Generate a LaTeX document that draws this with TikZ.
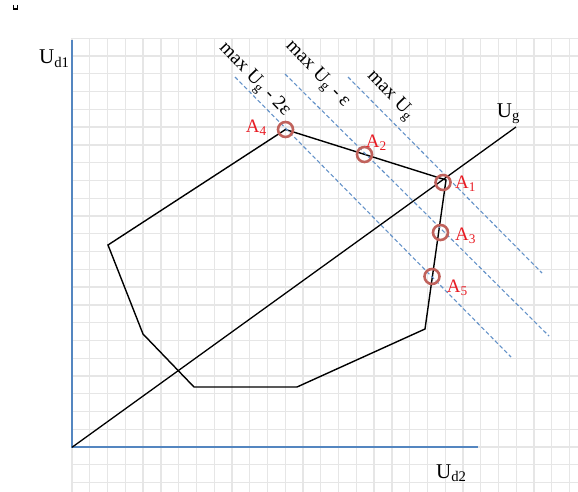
\documentclass[tikz,border=0pt]{standalone}
\usepackage{fontspec}
\setmainfont{Liberation Serif}
\definecolor{axisblue}{RGB}{84,134,192}
\definecolor{levelblue}{RGB}{100,146,200}
\definecolor{ringred}{RGB}{192,98,92}
\definecolor{tagred}{RGB}{232,28,36}
\definecolor{gridgray}{RGB}{230,230,230}

\begin{document}
\begin{tikzpicture}[x=1pt,y=-1pt,
  level/.style={levelblue,line width=1.1pt,dash pattern=on 4pt off 2.5pt},
  ring/.style={ringred,line width=2.6pt},
  tag/.style={tagred,font=\fontsize{19}{19}\selectfont,inner sep=0pt,anchor=base west},
  axlabel/.style={font=\fontsize{21}{21}\selectfont,inner sep=0pt,anchor=base west},
  levellabel/.style={font=\fontsize{19.5}{19.5}\selectfont,rotate=-46,inner sep=0pt}]
  \useasboundingbox (0,0) rectangle (578,492);
  \foreach \i in {0,...,28}
    \draw[gridgray,line width=1.3pt] (72+17.77*\i,38.3) -- (72+17.77*\i,492);
  \foreach \j in {0,...,25}
    \draw[gridgray,line width=1.3pt] (72,38.3+17.77*\j) -- (578,38.3+17.77*\j);
  \fill (13.3,8.2) rectangle (17.6,10);
  \draw[line width=0.7pt] (13.6,5) -- (13.6,9.5) (17.3,5) -- (17.3,9.5);

  \coordinate (O) at (72,447.3);
  \coordinate (Ytop) at (72,40);
  \coordinate (Xend) at (478,447.3);
  \coordinate (G) at (516,127);
  \draw[axisblue,line width=1.8pt] (Ytop) -- (O) -- (Xend);
  \draw[line width=1.3pt] (O) -- (G);

  \coordinate (A4) at (285.5,129.5);
  \coordinate (A2) at (364.5,154.5);
  \coordinate (A1) at (443,182.5);
  \coordinate (A3) at (440.5,232.5);
  \coordinate (A5) at (432,276.5);
  \coordinate (V1) at (446,180);
  \coordinate (V2) at (425,329);
  \coordinate (V3) at (297,387);
  \coordinate (V4) at (194,387);
  \coordinate (V5) at (143,334);
  \coordinate (V6) at (108,245);
  \draw[line width=1.4pt] (A4) -- (V1) -- (V2) -- (V3) -- (V4) -- (V5) -- (V6) -- cycle;

  \coordinate (L0s) at (348,77);
  \coordinate (L0e) at (542,273);
  \coordinate (L1s) at (285,74);
  \coordinate (L1e) at (549,336);
  \coordinate (L2s) at (235,77);
  \coordinate (L2e) at (511,357);
  \draw[level] (L0s) -- (L0e);
  \draw[level] (L1s) -- (L1e);
  \draw[level] (L2s) -- (L2e);

  \foreach \p in {A1,A2,A3,A4,A5}
    \draw[ring] (\p) circle (7.5);

  \node[tag] (tA1) at (455,188.5) {A\textsubscript{1}};
  \node[tag] (tA2) at (365.7,147.3) {A\textsubscript{2}};
  \node[tag] (tA3) at (455,240.7) {A\textsubscript{3}};
  \node[tag] (tA4) at (245.7,132.7) {A\textsubscript{4}};
  \node[tag] (tA5) at (446.7,292.7) {A\textsubscript{5}};

  \node[axlabel] (ud1) at (39,64) {U\textsubscript{d1}};
  \node[axlabel] (ud2) at (436,478.3) {U\textsubscript{d2}};
  \node[axlabel] (ug) at (496.7,117.3) {U\textsubscript{g}};

  \node[levellabel] (m0) at (390,96) {max U\textsubscript{g}};
  \node[levellabel] (m1) at (317,74.5) {max U\textsubscript{g} - ε};
  \node[levellabel] (m2) at (254,80) {max U\textsubscript{g} - 2ε};
\end{tikzpicture}
\end{document}
